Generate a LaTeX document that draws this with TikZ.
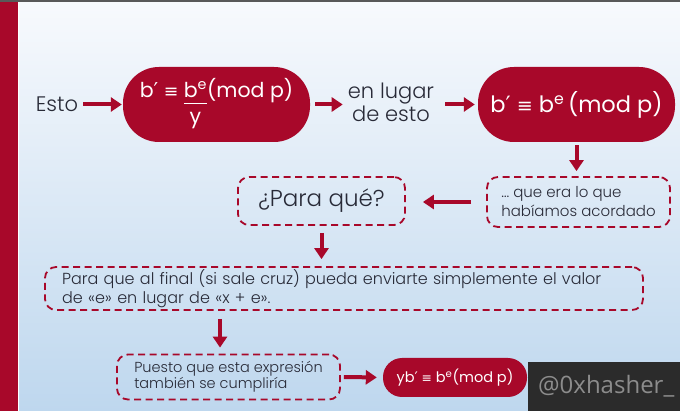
\documentclass[tikz,border=0pt]{standalone}
\usepackage{fontspec}
\setmainfont{Poppins}[UprightFont=* Light]
\newfontfamily\popreg{Poppins}
\newfontfamily\symf{DejaVu Sans}
\newfontfamily\wmf{Open Sans}
\usetikzlibrary{arrows.meta}
\definecolor{myred}{RGB}{168,8,42}
\definecolor{txt}{RGB}{40,42,55}
\definecolor{bgtop}{RGB}{248,250,253}
\definecolor{bgmid}{RGB}{212,228,243}
\definecolor{bgbot}{RGB}{190,215,238}
\definecolor{wmbg}{RGB}{43,43,43}
\definecolor{wmtxt}{RGB}{140,140,140}
\newcommand\pr{{\symf\char"2032}}
\newcommand\eqv{\scalebox{0.85}{\symf\char"2261}}
\newcommand\fracbe{{\setlength\arrayrulewidth{1.6pt}\begin{tabular}[t]{@{}c@{}}b\textsuperscript{e}\\[-2pt]\hline\rule{0pt}{0.95em}y\end{tabular}}}
\begin{document}
\begin{tikzpicture}[x=1pt,y=-1pt,
  redbox/.style={fill=myred, text=white, inner sep=0pt},
  dbox/.style={draw=myred, dash pattern=on 7pt off 4.5pt, line width=1.8pt, rounded corners=11pt, text=txt, inner sep=0pt},
  arr/.style={-{Triangle[length=11pt,width=14pt]}, line width=4pt, draw=myred},
  lbl/.style={text=txt, inner sep=0pt}]
\useasboundingbox (0,0) rectangle (680,411);
\shade[top color=bgtop, middle color=bgmid, bottom color=bgbot] (18,0) rectangle (680,411);
\fill[myred] (0,0) rectangle (18,411);
\fill[white] (18,0) rectangle (19.2,411);
\fill[black!65] (0,0) rectangle (680,2);

\node[lbl, font=\fontsize{21}{24}\selectfont] (esto) at (57,104) {Esto};
\node[redbox, rounded corners=36pt, minimum width=187pt, minimum height=75pt, font=\popreg\fontsize{20.5}{24}\selectfont] (b1) at (216.5,104.5) {b\pr\ \eqv\ \fracbe(mod p)};
\node[lbl, align=center, font=\fontsize{21}{23}\selectfont] (el) at (391,102) {en lugar\\de esto};
\node[redbox, rounded corners=36pt, minimum width=197pt, minimum height=75pt, font=\popreg\fontsize{22.5}{27}\selectfont] (b2) at (576.5,104.5) {b\pr\ \eqv\ b\textsuperscript{e}\,(mod p)};
\node[dbox, minimum width=183pt, minimum height=50pt, align=left, font=\fontsize{15}{19}\selectfont] (qe) at (578.5,202) {… que era lo que\\habíamos acordado};
\node[dbox, minimum width=167pt, minimum height=48pt, font=\fontsize{23}{27}\selectfont] (pq) at (321.5,201) {¿Para qué?};
\node[dbox, minimum width=598pt, minimum height=43pt, align=left, text width=564pt, font=\fontsize{16}{18.5}\selectfont] (lg) at (344,288.5) {Para que al final (si sale cruz) pueda enviarte simplemente el valor\\de «e» en lugar de «x + e».};
\node[dbox, minimum width=223pt, minimum height=45pt, align=left, font=\fontsize{14.5}{16.5}\selectfont] (pu) at (228.5,377) {Puesto que esta expresión\\también se cumpliría};
\node[redbox, rounded corners=19pt, minimum width=144pt, minimum height=39pt, font=\popreg\fontsize{14.5}{17}\selectfont] (yb) at (455,377.5) {yb\pr\ \eqv\ b\textsuperscript{e}(mod p)};
\node[fill=wmbg, text=wmtxt, inner sep=0pt, minimum width=152pt, minimum height=49pt, anchor=north west, font=\wmf\fontsize{24}{28}\selectfont] (wm) at (528,362) {\hspace*{4pt}@0xhasher\_};
\coordinate (c7) at (220,0);

\draw[arr, shorten <=5pt, shorten >=1pt] (esto.east |- b1.west) -- (b1.west);
\draw[arr, shorten <=5pt, shorten >=5pt] (b1.east) -- (el.west |- b1.east);
\draw[arr, shorten <=11pt, shorten >=3pt] (el.east |- b2.west) -- (b2.west);
\draw[arr, shorten <=3pt, shorten >=5pt] (b2.south) -- (b2.south |- qe.north);
\draw[arr, shorten <=15pt, shorten >=17pt] (qe.west) -- (pq.east |- qe.west);
\draw[arr, shorten <=7pt, shorten >=7pt] (pq.south) -- (pq.south |- lg.north);
\draw[arr, shorten <=8pt, shorten >=6pt] (lg.south -| c7) -- (pu.north -| c7);
\draw[arr, shorten <=3pt, shorten >=6pt] (pu.east) -- (yb.west);
\end{tikzpicture}
\end{document}
